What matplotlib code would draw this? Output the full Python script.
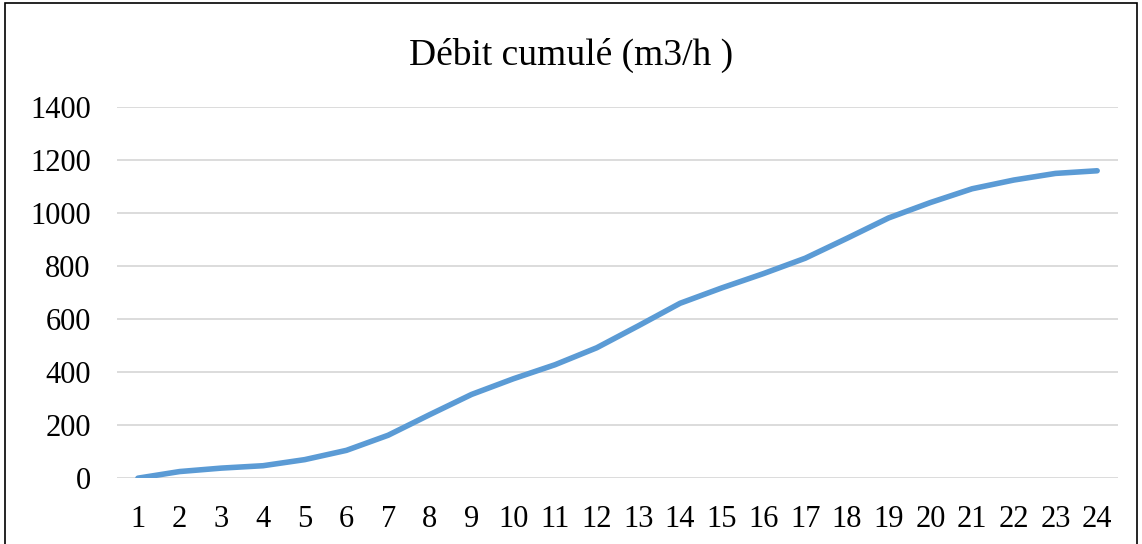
import matplotlib.pyplot as plt
from matplotlib.patches import Rectangle

hours = list(range(1, 25))
debit_cumule = [0, 25, 38, 47, 70, 105, 162, 240, 316, 375, 428, 492,
                575, 660, 718, 772, 830, 905, 982, 1040, 1092, 1125, 1150, 1160]
y_ticks = [0, 200, 400, 600, 800, 1000, 1200, 1400]

plt.rcParams['font.family'] = ['Liberation Serif', 'DejaVu Serif']

fig = plt.figure(figsize=(11.42, 5.44), dpi=100)
ax = fig.add_axes([0.1025, 0.121, 0.8765, 0.682])

ax.plot(hours, debit_cumule, color='#5B9BD5', linewidth=4.0,
        solid_capstyle='round', solid_joinstyle='round', zorder=3)

ax.set_xlim(0.5, 24.5)
ax.set_ylim(0, 1400)
ax.set_xticks(hours)
ax.set_yticks(y_ticks)
ax.tick_params(axis='both', length=0, labelsize=22)
ax.tick_params(axis='x', pad=19)
ax.tick_params(axis='y', pad=19)
ax.grid(axis='y', color='#D9D9D9', linewidth=1.3)
for s in ax.spines.values():
    s.set_visible(False)

fig.text(0.5, 0.899, 'Débit cumulé (m3/h )', ha='center', va='center', fontsize=27)

# border around the chart
fig.patches.append(Rectangle((0.004, -0.01), 0.992, 1.005, transform=fig.transFigure,
                             fill=False, edgecolor='black', linewidth=1.2))

plt.savefig('out.png', dpi=100)
